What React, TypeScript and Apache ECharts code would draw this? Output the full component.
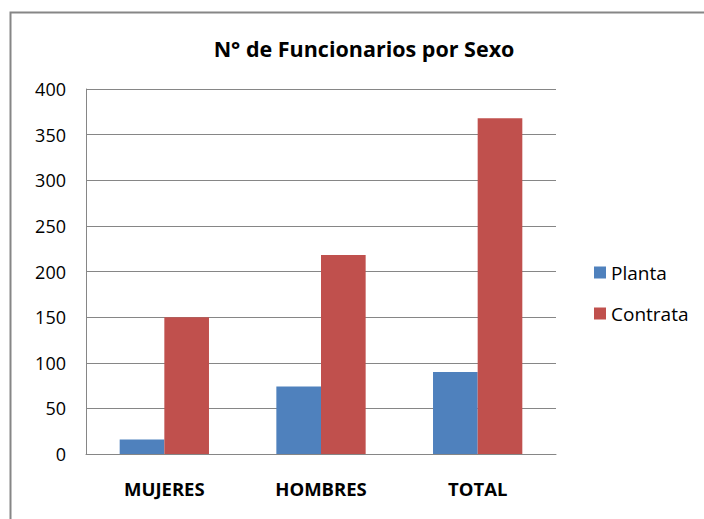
import React, { useEffect, useRef } from "react";
import * as echarts from "echarts";

const categories = ["MUJERES", "HOMBRES", "TOTAL"];
const planta = [16, 74, 90];
const contrata = [150, 218, 368];
const seriesNames = ["Planta", "Contrata"];
const titleText = "N° de Funcionarios por Sexo";

export default function App() {
  const ref = useRef<HTMLDivElement>(null);
  useEffect(() => {
    if (!ref.current) return;
    const chart = echarts.init(ref.current, null, { renderer: "svg" });
    const font = "Open Sans, Noto Sans, sans-serif";
    chart.setOption({
      animation: false,
      backgroundColor: "#ffffff",
      title: {
        text: titleText,
        left: 359,
        textAlign: "center",
        top: 32,
        textStyle: { fontFamily: font, fontSize: 21.5, fontWeight: "bold", color: "#000" },
      },
      graphic: [
        {
          type: "rect",
          shape: { x: 10.5, y: 12.5, width: 720, height: 540 },
          style: { fill: "none", stroke: "#868686", lineWidth: 2 },
          z: 100,
        },
      ],
      legend: {
        orient: "vertical",
        left: 589,
        top: 258,
        itemWidth: 12,
        itemHeight: 12,
        itemGap: 22,
        icon: "rect",
        textStyle: { fontFamily: font, fontSize: 19, color: "#000" },
        data: seriesNames,
      },
      grid: { left: 86, right: 148, top: 89, bottom: 65 },
      xAxis: {
        type: "category",
        data: categories,
        axisLine: { lineStyle: { color: "#868686", width: 1 } },
        axisTick: { show: false },
        axisLabel: {
          fontFamily: font,
          fontSize: 18.5,
          fontWeight: "bold",
          color: "#000",
          margin: 25,
        },
      },
      yAxis: {
        type: "value",
        min: 0,
        max: 400,
        interval: 50,
        axisLine: { show: true, lineStyle: { color: "#868686", width: 1 } },
        axisTick: { show: false },
        splitLine: { lineStyle: { color: "#868686", width: 1 } },
        axisLabel: { fontFamily: font, fontSize: 18, color: "#000", margin: 20 },
      },
      series: [
        {
          name: seriesNames[0],
          type: "bar",
          data: planta,
          barGap: "0%",
          barCategoryGap: "43%",
          itemStyle: { color: "#4F81BD" },
        },
        {
          name: seriesNames[1],
          type: "bar",
          data: contrata,
          barGap: "0%",
          barCategoryGap: "43%",
          itemStyle: { color: "#C0504D" },
        },
      ],
    });
    return () => chart.dispose();
  }, []);
  return (
    <div
      ref={ref}
      style={{ position: "fixed", left: 0, top: 0, width: 704, height: 519 }}
    />
  );
}
